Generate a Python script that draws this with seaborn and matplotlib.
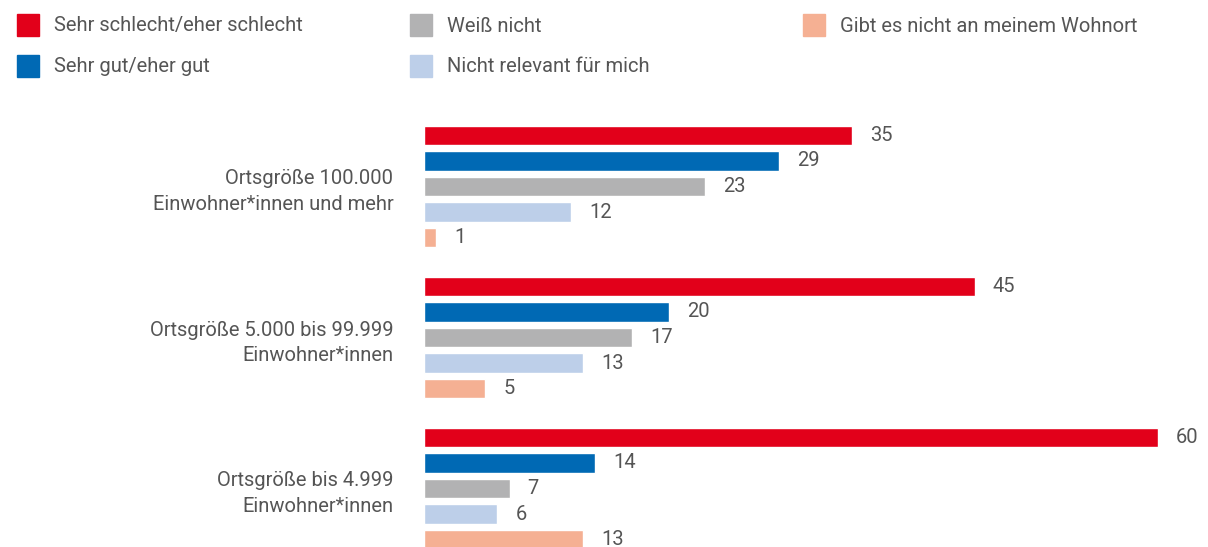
import matplotlib
matplotlib.use("Agg")
import matplotlib.pyplot as plt
from matplotlib.patches import Rectangle
import seaborn as sns
import pandas as pd

# Survey answers by town size (percent)
categories = [
    "Ortsgröße 100.000\nEinwohner*innen und mehr",
    "Ortsgröße 5.000 bis 99.999\nEinwohner*innen",
    "Ortsgröße bis 4.999\nEinwohner*innen",
]
series_names = [
    "Sehr schlecht/eher schlecht",
    "Sehr gut/eher gut",
    "Weiß nicht",
    "Nicht relevant für mich",
    "Gibt es nicht an meinem Wohnort",
]
sehr_schlecht = [35, 45, 60]
sehr_gut = [29, 20, 14]
weiss_nicht = [23, 17, 7]
nicht_relevant = [12, 13, 6]
gibt_es_nicht = [1, 5, 13]

colors = ["#E2001A", "#0069B4", "#B2B2B3", "#BDCFE9", "#F5B093"]
text_color = "#555555"
fs = 14.5

sns.set_theme(style="white")
plt.rcParams["font.family"] = ["Liberation Sans Narrow", "Roboto", "DejaVu Sans"]

rows = []
for name, vals in zip(series_names,
                      [sehr_schlecht, sehr_gut, weiss_nicht, nicht_relevant, gibt_es_nicht]):
    for cat, v in zip(categories, vals):
        rows.append({"Kategorie": cat, "Antwort": name, "Prozent": v})
df = pd.DataFrame(rows)

W, H = 1208, 547
fig = plt.figure(figsize=(W / 100, H / 100), dpi=100)
ax_left, ax_top = 424, 100
ax = fig.add_axes([ax_left / W, 0, (W - ax_left) / W, (H - ax_top) / H])

sns.barplot(
    data=df, y="Kategorie", x="Prozent", hue="Antwort",
    hue_order=series_names, order=categories, palette=colors,
    orient="h", width=0.845, gap=0.25, saturation=1, legend=False, ax=ax,
)

px_per_unit = (1158 - 424) / 60
ax.set_xlim(0, (W - ax_left) / px_per_unit)
ax.set_ylim((H - 186.5) / 151, (ax_top - 186.5) / 151)

for cont in ax.containers:
    ax.bar_label(cont, padding=13, fontsize=fs, color=text_color)

ax.set_xlabel("")
ax.set_ylabel("")
ax.set_xticks([])
ax.tick_params(axis="y", length=0, pad=22, labelsize=fs, labelcolor=text_color)
for lbl in ax.get_yticklabels():
    lbl.set_horizontalalignment("right")
    lbl.set_linespacing(1.45)
for s in ax.spines.values():
    s.set_visible(False)

# Legend drawn as colored squares with labels across three columns
legend_pos = [(17, 25), (17, 66), (410, 25), (410, 66), (803, 25)]
for (x, y), i in zip(legend_pos, range(len(series_names))):
    fig.patches.append(Rectangle((x / W, 1 - (y + 11) / H), 22 / W, 22 / H,
                                 transform=fig.transFigure, color=colors[i]))
    fig.text((x + 37) / W, 1 - (y + 1) / H, series_names[i], ha="left", va="center",
             fontsize=fs, color=text_color)

fig.savefig("out.png", dpi=100)
